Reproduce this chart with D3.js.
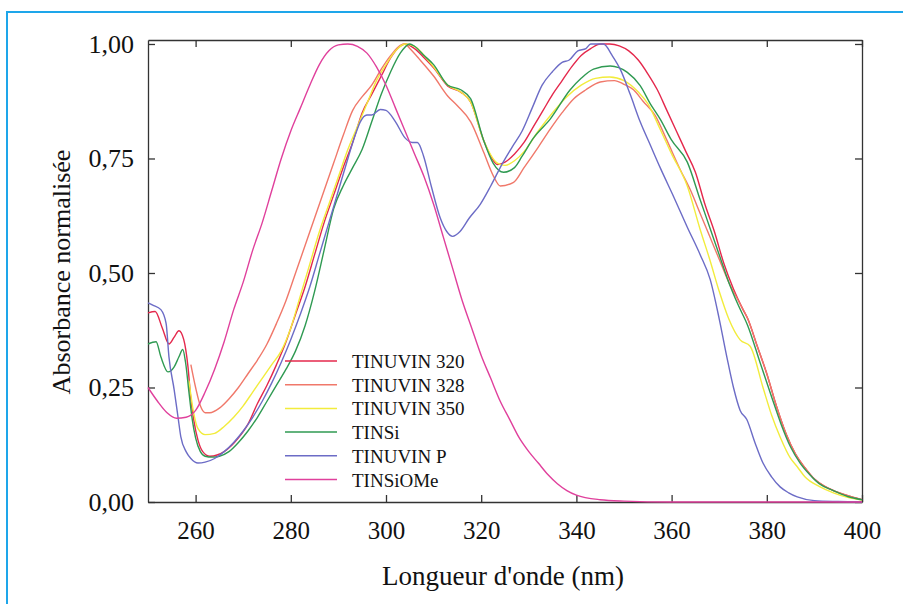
<!DOCTYPE html>
<html>
<head>
<meta charset="utf-8">
<script src="https://cdn.jsdelivr.net/npm/d3@7"></script>
<style>
  body { margin: 0; background: #fff; }
  svg text { font-family: "Liberation Serif", "Times New Roman", Tinos, "DejaVu Serif", "Noto Serif", Times, serif; fill: #111; }
</style>
</head>
<body>
<div id="chart"></div>
<script>
// x ticks and y ticks
var xTicks = [260, 280, 300, 320, 340, 360, 380, 400];
var yTicks = [0, 0.25, 0.5, 0.75, 1];

var seriesNames = ["TINUVIN 320", "TINUVIN 328", "TINUVIN 350", "TINSi", "TINUVIN P", "TINSiOMe"];
var seriesColors = ["#e4284c", "#f0786a", "#f2ec3c", "#2f9a52", "#6c6cc6", "#e0409c"];

// [wavelength nm, normalised absorbance]
var tinuvin320 = [
    [250, 0.413], [251.5, 0.416], [253, 0.38], [254.4, 0.345], [255.5, 0.36], [256.5, 0.374],
    [257.5, 0.355], [258.4, 0.295], [259, 0.225], [259.6, 0.18], [260.5, 0.135], [261.5, 0.11],
    [263, 0.1], [266, 0.11], [269, 0.14], [271, 0.17], [273, 0.215], [275, 0.255], [277, 0.3],
    [279, 0.35], [281, 0.41], [283, 0.47], [285, 0.54], [287, 0.61], [289, 0.67], [291, 0.73],
    [293, 0.785], [295, 0.85], [297, 0.89], [299, 0.93], [301, 0.97], [303, 0.995], [304, 1.0],
    [306, 0.99], [308, 0.97], [310, 0.948], [313, 0.908], [315.7, 0.895], [317.8, 0.873],
    [320.5, 0.79], [322, 0.755], [323.4, 0.737], [325, 0.742], [327, 0.76], [329, 0.785],
    [331, 0.82], [333, 0.855], [335, 0.89], [337, 0.92], [339, 0.95], [341, 0.975], [343, 0.99],
    [345, 1.0], [347, 1.0], [349, 0.996], [351, 0.985], [353, 0.965], [355, 0.935], [357, 0.9],
    [359, 0.855], [361, 0.81], [363, 0.765], [365, 0.72], [367, 0.65], [369, 0.59], [371, 0.52],
    [373, 0.465], [375, 0.42], [376, 0.4], [378, 0.34], [380, 0.28], [382, 0.21], [384, 0.15],
    [386, 0.105], [388, 0.075], [390, 0.05], [392, 0.035], [394, 0.025], [397, 0.014], [400, 0.005]
];
var tinuvin328 = [
    [259, 0.3], [260, 0.25], [261, 0.21], [262, 0.195], [263, 0.195], [265, 0.205], [267, 0.225],
    [269, 0.25], [271, 0.28], [273, 0.31], [275, 0.345], [277, 0.39], [279, 0.44], [281, 0.5],
    [283, 0.56], [285, 0.62], [287, 0.68], [289, 0.74], [291, 0.8], [293, 0.855], [295, 0.885],
    [297, 0.91], [299, 0.945], [301, 0.975], [303, 0.997], [304, 1.0], [305, 0.99], [307, 0.967],
    [310, 0.93], [313, 0.886], [315, 0.865], [317.8, 0.83], [320.5, 0.764], [322.6, 0.711],
    [324, 0.69], [326.8, 0.698], [329, 0.73], [332, 0.775], [334.5, 0.814], [337, 0.85],
    [339.4, 0.88], [342, 0.9], [345, 0.917], [348, 0.92], [350, 0.912], [352, 0.9], [354, 0.875],
    [356.6, 0.843], [359, 0.79], [361.8, 0.726], [364, 0.68], [366, 0.63], [368, 0.58], [370, 0.53],
    [372, 0.48], [374, 0.44], [376, 0.4], [378, 0.34], [380, 0.28], [382, 0.21], [384, 0.15],
    [386, 0.105], [388, 0.075], [390, 0.05], [392, 0.035], [394, 0.025], [397, 0.014], [400, 0.005]
];
var tinuvin350 = [
    [258.6, 0.265], [259.5, 0.2], [260.5, 0.16], [262, 0.147], [264, 0.15], [266, 0.165],
    [268, 0.185], [270, 0.21], [272, 0.24], [274, 0.27], [276, 0.3], [278, 0.33], [280, 0.38],
    [282, 0.45], [284, 0.52], [286, 0.59], [288, 0.65], [290, 0.71], [292, 0.77], [294, 0.82],
    [296, 0.87], [298, 0.92], [300, 0.955], [302, 0.985], [304, 1.0], [306, 0.995], [308, 0.975],
    [310, 0.95], [313, 0.91], [315.7, 0.895], [317.8, 0.873], [320.5, 0.79], [323.4, 0.74],
    [325, 0.735], [327, 0.745], [329, 0.765], [332, 0.81], [335, 0.85], [338, 0.885], [341, 0.91],
    [344, 0.925], [347, 0.928], [350, 0.92], [353, 0.895], [355, 0.87], [357.6, 0.814], [360, 0.76],
    [363.3, 0.69], [366, 0.595], [368, 0.53], [370, 0.46], [372, 0.4], [374.4, 0.354],
    [376.5, 0.34], [379.2, 0.25], [381, 0.19], [382.8, 0.142], [385, 0.095], [386.4, 0.077],
    [388, 0.055], [391.2, 0.033], [394, 0.02], [397, 0.01], [400, 0.004]
];
var tinsi = [
    [250, 0.345], [251.7, 0.35], [252.7, 0.317], [254.2, 0.284], [255.5, 0.295], [256.5, 0.317],
    [257.3, 0.333], [257.9, 0.304], [258.6, 0.24], [259.3, 0.18], [260, 0.14], [261, 0.11],
    [262, 0.1], [263.5, 0.098], [265, 0.1], [267, 0.11], [269, 0.13], [271, 0.155], [273, 0.185],
    [275, 0.22], [277, 0.255], [279, 0.29], [281, 0.33], [283, 0.385], [285, 0.46], [287, 0.55],
    [289, 0.64], [291, 0.69], [293, 0.73], [295, 0.77], [297, 0.83], [299, 0.89], [301, 0.94],
    [303, 0.98], [305, 1.0], [306, 0.995], [308, 0.975], [310, 0.955], [313, 0.91], [315.7, 0.9],
    [317.8, 0.88], [320.5, 0.79], [322.5, 0.74], [324.7, 0.72], [327, 0.73], [328.6, 0.755],
    [331, 0.795], [334.5, 0.836], [338.7, 0.9], [341, 0.925], [343.6, 0.945], [347.1, 0.952],
    [350.7, 0.938], [353.4, 0.909], [355.5, 0.87], [357.6, 0.836], [360, 0.79], [363.3, 0.742],
    [366, 0.66], [368, 0.6], [370, 0.54], [372, 0.48], [374, 0.43], [376, 0.385], [378.6, 0.304],
    [381, 0.23], [383, 0.17], [385, 0.12], [387, 0.085], [389, 0.06], [391, 0.04], [394, 0.025],
    [397, 0.012], [400, 0.005]
];
var tinuvinP = [
    [250, 0.435], [251, 0.43], [252.7, 0.42], [253.8, 0.39], [254.4, 0.317], [255.5, 0.245],
    [256.3, 0.186], [256.9, 0.142], [258, 0.11], [259, 0.095], [260.5, 0.085], [262, 0.087],
    [264, 0.095], [266, 0.11], [268, 0.13], [270, 0.155], [272, 0.185], [274, 0.22], [276, 0.26],
    [278, 0.305], [280, 0.355], [282, 0.41], [284, 0.47], [286, 0.54], [288, 0.61], [290, 0.68],
    [292, 0.75], [293.5, 0.8], [294.6, 0.83], [296, 0.845], [297, 0.845], [298.8, 0.857],
    [300, 0.855], [302, 0.83], [304, 0.795], [305.5, 0.785], [306.6, 0.785], [307.9, 0.755],
    [309.5, 0.69], [311.4, 0.62], [312.8, 0.59], [314, 0.58], [315.5, 0.59], [317.5, 0.62],
    [319.8, 0.65], [322, 0.69], [324.5, 0.74], [326.5, 0.775], [328.6, 0.81], [330.7, 0.86],
    [332.8, 0.91], [335, 0.94], [337, 0.96], [338.5, 0.965], [340.3, 0.985], [342, 0.99],
    [343, 1.0], [345.7, 1.0], [347.5, 0.975], [349.2, 0.945], [351.3, 0.89], [353.4, 0.83],
    [355.5, 0.78], [357.6, 0.73], [360.5, 0.665], [363.3, 0.6], [366, 0.54], [368.1, 0.486],
    [370, 0.4], [371.6, 0.317], [373, 0.25], [374.4, 0.2], [375.8, 0.18], [377.5, 0.13],
    [379.2, 0.085], [381, 0.055], [382.8, 0.033], [384.6, 0.02], [386.4, 0.011], [390, 0.003],
    [395, 0.001], [400, 0]
];
var tinsiOMe = [
    [250, 0.25], [252, 0.22], [254, 0.195], [256, 0.183], [258, 0.185], [260, 0.2], [262, 0.24],
    [264, 0.29], [266, 0.35], [268, 0.42], [270, 0.48], [272, 0.55], [274, 0.61], [276, 0.68],
    [278, 0.75], [280, 0.81], [282, 0.86], [284, 0.91], [286, 0.955], [288, 0.985], [290, 0.998],
    [292, 1.0], [294, 0.995], [296, 0.98], [298, 0.95], [300, 0.91], [302, 0.86], [304, 0.81],
    [306, 0.76], [308, 0.71], [310, 0.65], [312, 0.58], [314, 0.51], [316, 0.44], [318, 0.38],
    [320, 0.32], [322, 0.27], [324, 0.22], [326, 0.18], [328, 0.14], [330, 0.11], [332, 0.085],
    [334, 0.06], [336, 0.04], [338, 0.025], [340, 0.015], [345, 0.005], [350, 0.002], [360, 0],
    [400, 0]
];

var seriesData = [tinuvin320, tinuvin328, tinuvin350, tinsi, tinuvinP, tinsiOMe];

var width = 903, height = 604;
var margin = { top: 40, right: 41, bottom: 102, left: 148 };

var svg = d3.select("#chart").append("svg")
    .attr("width", width)
    .attr("height", height);

// frame round the whole figure
svg.append("rect")
    .attr("x", 7).attr("y", 12)
    .attr("width", width).attr("height", height)
    .attr("fill", "none")
    .attr("stroke", "#1ea6ea")
    .attr("stroke-width", 2);

var x = d3.scaleLinear().domain([250, 400]).range([margin.left, width - margin.right]);
var y = d3.scaleLinear().domain([0, 1.0087]).range([height - margin.bottom, margin.top]);

var fmt = function(d) { return d3.format(".2f")(d).replace(".", ","); };

var tickLen = 7;

svg.append("g")
    .attr("class", "axis xaxis")
    .attr("transform", "translate(0," + y(0) + ")")
    .call(d3.axisBottom(x).tickValues(xTicks).tickSizeInner(-tickLen).tickSizeOuter(0).tickPadding(19).tickFormat(d3.format("d")));

svg.append("g")
    .attr("class", "axis")
    .attr("transform", "translate(0," + margin.top + ")")
    .call(d3.axisTop(x).tickValues(xTicks).tickSizeInner(-tickLen).tickSizeOuter(0).tickFormat(""));

svg.append("g")
    .attr("class", "axis yaxis")
    .attr("transform", "translate(" + margin.left + ",0)")
    .call(d3.axisLeft(y).tickValues(yTicks).tickSizeInner(-tickLen).tickSizeOuter(0).tickPadding(14).tickFormat(fmt));

svg.append("g")
    .attr("class", "axis")
    .attr("transform", "translate(" + (width - margin.right) + ",0)")
    .call(d3.axisRight(y).tickValues(yTicks).tickSizeInner(-tickLen).tickSizeOuter(0).tickFormat(""));

svg.selectAll(".axis").attr("font-family", null);
svg.selectAll(".axis path").attr("stroke", "#333").attr("stroke-width", 1.3);
svg.selectAll(".axis line").attr("stroke", "#333").attr("stroke-width", 1.3);
svg.selectAll(".xaxis text").attr("font-size", 25).attr("fill", "#111");
svg.selectAll(".yaxis text").attr("font-size", 26).attr("fill", "#111");

// axis titles
svg.append("text")
    .text("Longueur d'onde (nm)")
    .attr("x", 503)
    .attr("y", 585)
    .attr("text-anchor", "middle")
    .attr("font-size", 27);

svg.append("text")
    .text("Absorbance normalisée")
    .attr("transform", "translate(70,272) rotate(-90)")
    .attr("text-anchor", "middle")
    .attr("font-size", 26);

// curves
var line = d3.line()
    .x(function(d) { return x(d[0]); })
    .y(function(d) { return y(d[1]); })
    .curve(d3.curveMonotoneX);

svg.append("g").selectAll("path")
    .data(seriesData)
    .enter().append("path")
    .attr("d", line)
    .attr("fill", "none")
    .attr("stroke", function(d, i) { return seriesColors[i]; })
    .attr("stroke-width", 1.4);

// legend
var legend = svg.append("g").attr("transform", "translate(285,361)");
var rowStep = 23.7;

legend.selectAll("line")
    .data(seriesNames)
    .enter().append("line")
    .attr("x1", 0).attr("x2", 52)
    .attr("y1", function(d, i) { return i * rowStep; })
    .attr("y2", function(d, i) { return i * rowStep; })
    .attr("stroke", function(d, i) { return seriesColors[i]; })
    .attr("stroke-width", 1.5);

legend.selectAll("text")
    .data(seriesNames)
    .enter().append("text")
    .text(function(d) { return d; })
    .attr("x", 67)
    .attr("y", function(d, i) { return i * rowStep + 7; })
    .attr("font-size", 19);
</script>
</body>
</html>
